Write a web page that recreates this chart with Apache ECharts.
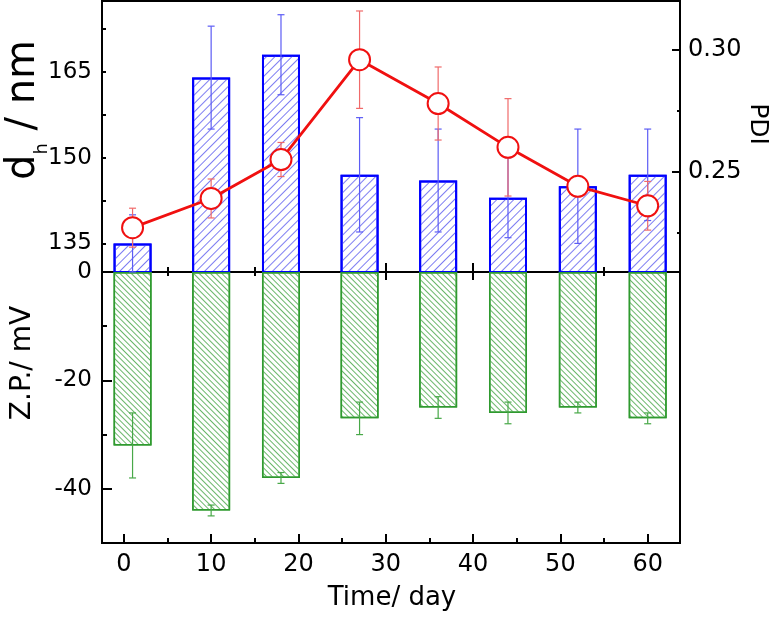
<!DOCTYPE html>
<html>
<head>
<meta charset="utf-8">
<script src="https://cdn.jsdelivr.net/npm/echarts@6/dist/echarts.min.js"></script>
<style>html,body{margin:0;padding:0;background:#fff}#c{width:771px;height:619px}</style>
</head>
<body>
<div id="c"></div>
<script>
// ---- data ----
const days   = [1, 10, 18, 27, 36, 44, 52, 60];
const dh     = [135, 164, 168, 147, 146, 143, 145, 147];
const dhErr  = [5, 9, 7, 10, 9, 7, 10, 8];
const pdi    = [0.227, 0.239, 0.255, 0.296, 0.278, 0.260, 0.244, 0.236];
const pdiErr = [0.008, 0.008, 0.007, 0.020, 0.015, 0.020, 0.004, 0.010];
const zp     = [-32, -44, -38, -27, -25, -26, -25, -27];
const zpErr  = [6, 1, 1, 3, 2, 2, 1, 1];
const xMajor = [0, 10, 20, 30, 40, 50, 60];
const xMinor = [5, 15, 25, 35, 45, 55];
const dhLabels = [135, 150, 165];
const dhTicks = [135, 142.5, 150, 157.5, 165, 172.5];
const pdiLabels = [0.25, 0.30];
const pdiMinor = [0.225, 0.275];
const zpLabels = [0, -20, -40];
const zpMajor = [-20, -40];
const zpMinor = [-10, -30];

const FONT = 'DejaVu Sans';
const XMIN = -2.5, XMAX = 63.7;

const chart = echarts.init(document.getElementById('c'));

function xAx(grid, pos, ticks, len, showLine, labels) {
  return {
    type: 'value', gridIndex: grid, position: pos, min: XMIN, max: XMAX,
    axisLine: {show: showLine, onZero: false, lineStyle: {color: '#000', width: 2}},
    axisTick: {show: true, inside: true, length: len, customValues: ticks, lineStyle: {color: '#000', width: 2}},
    axisLabel: labels ? {show: true, customValues: labels, fontFamily: FONT, fontSize: 24, color: '#000', margin: 10} : {show: false},
    splitLine: {show: false}
  };
}
function yAx(grid, pos, min, max, ticks, len, showLine, labels, fs, margin, fmt) {
  return {
    type: 'value', gridIndex: grid, position: pos, min: min, max: max,
    axisLine: {show: showLine, onZero: false, lineStyle: {color: '#000', width: 2}},
    axisTick: {show: true, inside: true, length: len, customValues: ticks, lineStyle: {color: '#000', width: 2}},
    axisLabel: labels ? {show: true, customValues: labels, fontFamily: FONT, fontSize: fs, color: '#000', margin: margin, formatter: fmt} : {show: false},
    splitLine: {show: false}
  };
}

function errSeries(xi, yi, vals, errs, color, z) {
  return {
    type: 'custom', xAxisIndex: xi, yAxisIndex: yi, z: z, clip: false,
    data: days.map((d, i) => [d, vals[i] - errs[i], vals[i] + errs[i]]),
    encode: {x: 0, y: [1, 2]},
    renderItem: function (params, api) {
      const x = api.value(0);
      const a = api.coord([x, api.value(2)]);
      const b = api.coord([x, api.value(1)]);
      const w = 3.5;
      const st = {stroke: color, lineWidth: 1.2};
      return {type: 'group', children: [
        {type: 'line', shape: {x1: a[0], y1: a[1], x2: b[0], y2: b[1]}, style: st},
        {type: 'line', shape: {x1: a[0] - w, y1: a[1], x2: a[0] + w, y2: a[1]}, style: st},
        {type: 'line', shape: {x1: b[0] - w, y1: b[1], x2: b[0] + w, y2: b[1]}, style: st}
      ]};
    }
  };
}

const option = {
  backgroundColor: '#fff',
  animation: false,
  grid: [
    {left: 102, top: 1, width: 578, height: 271, show: true, borderColor: '#000', borderWidth: 2, backgroundColor: 'transparent'},
    {left: 102, top: 272, width: 578, height: 271, show: true, borderColor: '#000', borderWidth: 2, backgroundColor: 'transparent'}
  ],
  xAxis: [
    xAx(0, 'bottom', xMajor, 9, true, null),
    xAx(0, 'bottom', xMinor, 5, false, null),
    xAx(1, 'top', xMajor, 8, true, null),
    xAx(1, 'top', xMinor, 4, false, null),
    xAx(1, 'bottom', xMajor, 9, true, xMajor),
    xAx(1, 'bottom', xMinor, 5, false, null)
  ],
  yAxis: [
    yAx(0, 'left', 130, 177.4, dhTicks, 4, true, dhLabels, 23, 10, null),
    yAx(0, 'right', 0.2088, 0.3201, pdiLabels, 8, true, pdiLabels, 24, 8, v => v.toFixed(2)),
    yAx(0, 'right', 0.2088, 0.3201, pdiMinor, 3, false, null),
    yAx(1, 'left', -50, 0, zpMajor, 10, true, zpLabels, 23, 10, null),
    yAx(1, 'left', -50, 0, zpMinor, 5, false, null)
  ],
  series: [
    {
      type: 'bar', xAxisIndex: 0, yAxisIndex: 0, barWidth: 38, z: 2,
      data: days.map((d, i) => [d, dh[i]]),
      itemStyle: {
        color: '#fff', borderColor: '#0000ff', borderWidth: 2,
        decal: {symbol: 'rect', symbolSize: 1, dashArrayX: [1, 0], dashArrayY: [1, 5], rotation: -Math.PI / 4, color: '#7d7df2'}
      }
    },
    {
      type: 'bar', xAxisIndex: 4, yAxisIndex: 3, barWidth: 38, z: 2,
      data: days.map((d, i) => [d, zp[i]]),
      itemStyle: {
        color: '#fff', borderColor: '#2f9a2f', borderWidth: 1.5,
        decal: {symbol: 'rect', symbolSize: 1, dashArrayX: [1, 0], dashArrayY: [1, 3], rotation: Math.PI / 4, color: '#6ab66a'}
      }
    },
    errSeries(0, 0, dh, dhErr, '#5c5cf5', 3),
    errSeries(4, 3, zp, zpErr, '#48a848', 3),
    errSeries(0, 1, pdi, pdiErr, '#f06a6a', 4),
    {
      type: 'line', xAxisIndex: 0, yAxisIndex: 1, z: 5,
      data: days.map((d, i) => [d, pdi[i]]),
      symbol: 'circle', symbolSize: 21,
      lineStyle: {color: '#f01010', width: 2.8},
      itemStyle: {color: '#fff', borderColor: '#f01010', borderWidth: 2}
    }
  ],
  graphic: [
    {type: 'text', x: 24, y: 110, rotation: Math.PI / 2,
     style: {text: 'd{sub|h} / nm', fontFamily: FONT, fontSize: 40, fill: '#000', align: 'center', verticalAlign: 'middle', lineHeight: 54,
       rich: {sub: {fontFamily: FONT, fontSize: 18, lineHeight: 18, verticalAlign: 'bottom', fill: '#000'}}}},
    {type: 'text', x: 23, y: 363, rotation: Math.PI / 2,
     style: {text: 'Z.P./ mV', fontFamily: FONT, fontSize: 28, fill: '#000', align: 'center', verticalAlign: 'middle'}},
    {type: 'text', x: 757, y: 124, rotation: -Math.PI / 2,
     style: {text: 'PDI', fontFamily: FONT, fontSize: 25, fill: '#000', align: 'center', verticalAlign: 'middle'}},
    {type: 'text', x: 392, y: 598,
     style: {text: 'Time/ day', fontFamily: FONT, fontSize: 26, fill: '#000', align: 'center', verticalAlign: 'middle'}}
  ]
};
chart.setOption(option);
</script>
</body>
</html>
